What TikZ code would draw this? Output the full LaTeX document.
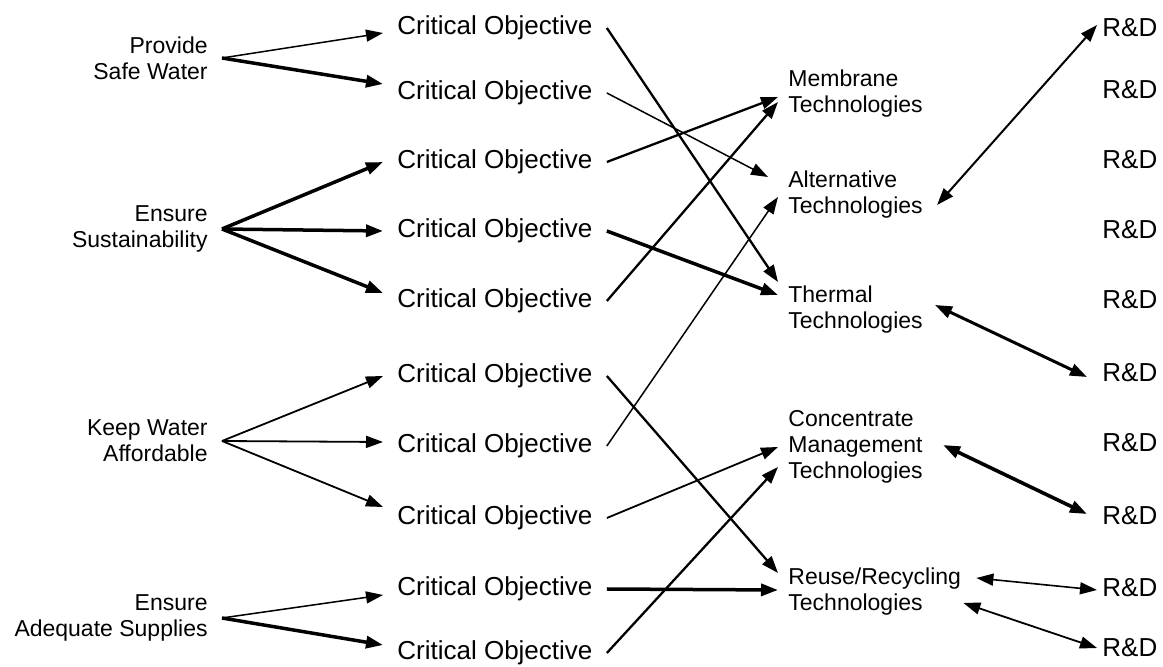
\documentclass[tikz,border=0pt]{standalone}
\usepackage{fontspec}
\setmainfont{Liberation Sans}
\usetikzlibrary{arrows.meta}

\begin{document}
\begin{tikzpicture}[
  x=0.5pt, y=-0.5pt,
  goal/.style={anchor=east, align=right, inner xsep=7pt, inner ysep=0pt,
               font=\fontsize{11.5}{13}\selectfont},
  objective/.style={anchor=west, inner xsep=7pt, inner ysep=0pt,
               font=\fontsize{13}{15}\selectfont},
  tech/.style={anchor=west, align=left, inner xsep=5pt, inner ysep=0pt,
               font=\fontsize{11.5}{13}\selectfont},
  rnd/.style={anchor=west, inner xsep=2.5pt, inner ysep=0pt,
               font=\fontsize{13}{15}\selectfont},
  thinline/.style={line width=0.75pt},
  midline/.style={line width=1.15pt},
  thickline/.style={line width=1.75pt},
  >={Triangle[length=8.5pt,width=6pt]},
]
  \useasboundingbox (0,0) rectangle (1163,667);

  \node[goal] (safe) at (222,58) {Provide\\Safe Water};
  \node[goal] (sustain) at (222,229) {Ensure\\Sustainability};
  \node[goal] (afford) at (222,441) {Keep Water\\Affordable};
  \node[goal] (supply) at (222,618) {Ensure\\Adequate Supplies};

  \node[objective] (co1) at (383,28) {Critical Objective};
  \node[objective] (co2) at (383,93) {Critical Objective};
  \node[objective] (co3) at (383,162) {Critical Objective};
  \node[objective] (co4) at (383,231) {Critical Objective};
  \node[objective] (co5) at (383,301) {Critical Objective};
  \node[objective] (co6) at (383,376) {Critical Objective};
  \node[objective] (co7) at (383,446) {Critical Objective};
  \node[objective] (co8) at (383,518) {Critical Objective};
  \node[objective] (co9) at (383,589) {Critical Objective};
  \node[objective] (co10) at (383,653) {Critical Objective};

  \node[tech] (membrane) at (778,94) {Membrane\\Technologies};
  \node[tech] (altern) at (778,195) {Alternative\\Technologies};
  \node[tech] (thermal) at (778,310) {Thermal\\Technologies};
  \node[tech] (concen) at (778,447) {Concentrate\\Management\\Technologies};
  \node[tech] (reuse) at (778,592) {Reuse/Recycling\\Technologies};

  \node[rnd] (rd1) at (1097,28) {R\&D};
  \node[rnd] (rd2) at (1097,90) {R\&D};
  \node[rnd] (rd3) at (1097,160) {R\&D};
  \node[rnd] (rd4) at (1097,230) {R\&D};
  \node[rnd] (rd5) at (1097,300) {R\&D};
  \node[rnd] (rd6) at (1097,373) {R\&D};
  \node[rnd] (rd7) at (1097,443) {R\&D};
  \node[rnd] (rd8) at (1097,516) {R\&D};
  \node[rnd] (rd9) at (1097,588) {R\&D};
  \node[rnd] (rd10) at (1097,648) {R\&D};

  \draw[->, thinline] (safe.east) -- ([yshift=-2.5pt]co1.west);
  \draw[->, thickline] (safe.east) -- ([yshift=4.5pt]co2.west);
  \draw[->, thickline] (sustain.east) -- (co3.west);
  \draw[->, thickline] (sustain.east) -- (co4.west);
  \draw[->, thickline] (sustain.east) -- ([yshift=4pt]co5.west);
  \draw[->, line width=0.9pt] (afford.east) -- (co6.west);
  \draw[->, line width=0.9pt] (afford.east) -- ([yshift=2pt]co7.west);
  \draw[->, line width=0.9pt] (afford.east) -- ([yshift=5.5pt]co8.west);
  \draw[->, thinline] (supply.east) -- ([yshift=-3pt]co9.west);
  \draw[->, thickline] (supply.east) -- ([yshift=4pt]co10.west);

  \draw[->, midline] (co1.east) -- ([yshift=14pt]thermal.west);
  \draw[->, thinline] (co2.east) -- ([xshift=-5pt,yshift=9pt]altern.west);
  \draw[->, midline] (co3.east) -- ([yshift=-1.5pt]membrane.west);
  \draw[->, thickline] (co4.east) -- ([yshift=7.5pt]thermal.west);
  \draw[->, midline] (co5.east) -- ([yshift=-4pt]membrane.west);
  \draw[->, midline] (co6.east) -- ([yshift=9.5pt]reuse.west);
  \draw[->, thinline] (co7.east) -- ([yshift=-1pt]altern.west);
  \draw[->, line width=0.9pt] (co8.east) -- (concen.west);
  \draw[->, thickline] (co9.east) -- ([yshift=1pt]reuse.west);
  \draw[->, midline] (co10.east) -- ([yshift=-10pt]concen.west);

  \draw[<->, line width=1pt] ([xshift=2pt,yshift=-5pt]altern.east) -- ([yshift=1.5pt]rd1.west);
  \draw[<->, line width=1.5pt] ([xshift=1pt,yshift=2.5pt]thermal.east) -- ([xshift=-5pt,yshift=-2pt]rd6.west);
  \draw[<->, line width=1.8pt] ([xshift=5pt,yshift=1pt]concen.east) -- ([xshift=-5pt,yshift=1pt]rd8.west);
  \draw[<->, line width=0.8pt] ([xshift=2.5pt,yshift=7pt]reuse.east) -- ([yshift=-1pt]rd9.west);
  \draw[<->, line width=0.9pt] ([xshift=-4pt,yshift=-5.5pt]reuse.east) -- (rd10.west);
\end{tikzpicture}
\end{document}
